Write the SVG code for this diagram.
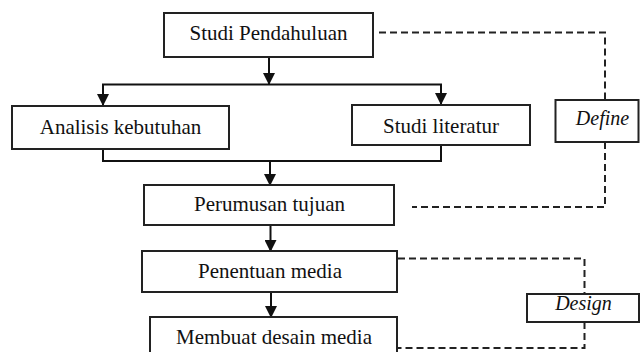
<svg xmlns="http://www.w3.org/2000/svg" width="641" height="352" viewBox="0 0 641 352">
<style>
  .box { fill: #fff; stroke: #222; stroke-width: 2; }
  text { font-family: 'Liberation Serif', 'DejaVu Serif', 'Times New Roman', serif; font-size: 21px; fill: #111; text-anchor: middle; }
  .it { font-style: italic; font-size: 20px; }
  .ln { fill: none; stroke: #111; stroke-width: 2; }
  .dash { fill: none; stroke: #222; stroke-width: 2; stroke-dasharray: 7 4; }
</style>
<defs>
  <marker id="arr" markerUnits="userSpaceOnUse" markerWidth="12" markerHeight="12" viewBox="0 0 12 12" refX="11" refY="6" orient="auto">
    <path d="M0,0 L12,6 L0,12 Z" fill="#111"/>
  </marker>
</defs>
<rect width="641" height="352" fill="#fff"/>

<g id="connectors">
  <line class="ln" x1="269" y1="57" x2="269" y2="84" marker-end="url(#arr)"/>
  <polyline class="ln" points="103,105 103,84.5 441,84.5 441,104"/>
  <line class="ln" x1="103" y1="94" x2="103" y2="105" marker-end="url(#arr)"/>
  <line class="ln" x1="441" y1="94" x2="441" y2="104" marker-end="url(#arr)"/>
  <polyline class="ln" points="103,149 103,161 441,161 441,145"/>
  <line class="ln" x1="270" y1="161" x2="270" y2="185" marker-end="url(#arr)"/>
  <line class="ln" x1="270.5" y1="225" x2="270.5" y2="251" marker-end="url(#arr)"/>
  <line class="ln" x1="271" y1="292" x2="271" y2="317" marker-end="url(#arr)"/>
  <polyline class="dash" points="379,32.5 605,32.5 605,100"/>
  <polyline class="dash" points="605,142 605,207 412,207"/>
  <polyline class="dash" points="398,258.5 584.5,258.5 584.5,294"/>
  <polyline class="dash" points="584.5,322 584.5,348 398,348"/>
</g>

<g id="studi-pendahuluan">
  <rect class="box" x="164" y="13" width="209" height="44"/>
  <text font-family="Liberation Serif" x="268.5" y="39.5">Studi Pendahuluan</text>
</g>
<g id="analisis-kebutuhan">
  <rect class="box" x="12" y="106" width="217" height="43"/>
  <text font-family="Liberation Serif" x="120.5" y="134">Analisis kebutuhan</text>
</g>
<g id="studi-literatur">
  <rect class="box" x="352" y="105" width="178" height="40"/>
  <text font-family="Liberation Serif" x="441" y="132.7">Studi literatur</text>
</g>
<g id="define">
  <rect class="box" x="555.5" y="100" width="83" height="42"/>
  <text font-family="Liberation Serif" class="it" x="602.5" y="125">Define</text>
</g>
<g id="perumusan-tujuan">
  <rect class="box" x="144" y="185" width="250" height="40"/>
  <text font-family="Liberation Serif" x="269.5" y="210.5">Perumusan tujuan</text>
</g>
<g id="penentuan-media">
  <rect class="box" x="142" y="251" width="255" height="41"/>
  <text font-family="Liberation Serif" x="270" y="278">Penentuan media</text>
</g>
<g id="design">
  <rect class="box" x="527" y="294" width="112" height="28"/>
  <text font-family="Liberation Serif" class="it" x="583.5" y="310">Design</text>
</g>
<g id="membuat-desain-media">
  <rect class="box" x="150" y="317" width="247" height="40"/>
  <text font-family="Liberation Serif" x="274" y="344">Membuat desain media</text>
</g>
</svg>
